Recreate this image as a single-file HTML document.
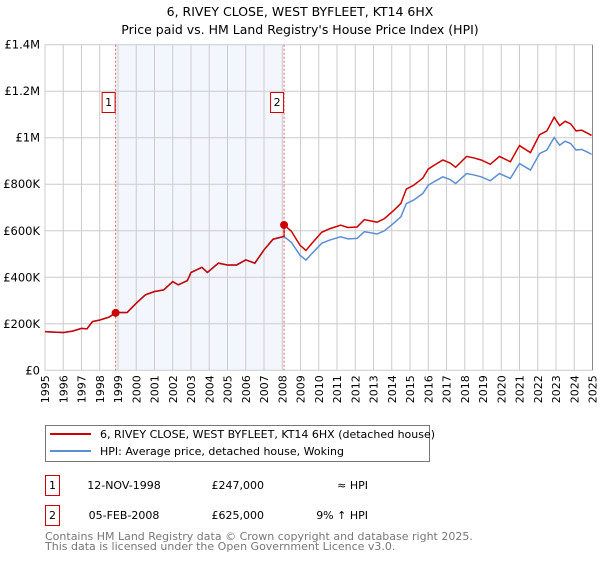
<!DOCTYPE html>
<html><head><meta charset="utf-8"><style>
body{margin:0;background:#fff;font-family:"DejaVu Sans","Liberation Sans",sans-serif;}
svg text{font-family:"DejaVu Sans","Liberation Sans",sans-serif;}
</style></head><body>
<svg id="chart" width="600" height="560" xmlns="http://www.w3.org/2000/svg">
<text x="300" y="16" text-anchor="middle" font-size="12.5">6, RIVEY CLOSE, WEST BYFLEET, KT14 6HX</text>
<text x="300" y="34" text-anchor="middle" font-size="12.5">Price paid vs. HM Land Registry's House Price Index (HPI)</text>
<g id="grid"></g>
<g id="series"></g>
<g id="axes"></g>
<g>
<rect x="45.5" y="425.5" width="384" height="36" fill="#fff" stroke="#777"/>
<line x1="50" y1="434" x2="91" y2="434" stroke="#cc0000" stroke-width="2"/>
<text x="100" y="438" font-size="11">6, RIVEY CLOSE, WEST BYFLEET, KT14 6HX (detached house)</text>
<line x1="50" y1="451" x2="91" y2="451" stroke="#5b8fd4" stroke-width="2"/>
<text x="100" y="455" font-size="11">HPI: Average price, detached house, Woking</text>
</g>
<g font-size="11">
<rect x="45.5" y="475.5" width="14" height="20" fill="#fff" stroke="#cc0000"/>
<text x="52.5" y="489" text-anchor="middle">1</text>
<text x="124" y="489" text-anchor="middle">12-NOV-1998</text>
<text x="264" y="489" text-anchor="end">£247,000</text>
<text x="368" y="489" text-anchor="end">≈ HPI</text>
<rect x="45.5" y="505.5" width="14" height="20" fill="#fff" stroke="#cc0000"/>
<text x="52.5" y="519" text-anchor="middle">2</text>
<text x="124" y="519" text-anchor="middle">05-FEB-2008</text>
<text x="264" y="519" text-anchor="end">£625,000</text>
<text x="368" y="519" text-anchor="end">9% ↑ HPI</text>
</g>
<text x="45" y="540" font-size="11" fill="#777">Contains HM Land Registry data © Crown copyright and database right 2025.</text>
<text x="45" y="550" font-size="11" fill="#777">This data is licensed under the Open Government Licence v3.0.</text>
</svg>
<script>
const hpiYears=[1995,1995.5,1996,1996.5,1997,1997.3,1997.6,1998,1998.5,1998.9,1999.5,2000,2000.5,2001,2001.5,2002,2002.3,2002.8,2003,2003.6,2003.9,2004.5,2005,2005.5,2006,2006.5,2007,2007.5,2008.1,2008.5,2008.97,2009.3,2009.6,2010.16,2010.6,2011.2,2011.6,2012.1,2012.5,2013.2,2013.6,2014.1,2014.5,2014.8,2015.2,2015.7,2016.0,2016.3,2016.8,2017.2,2017.5,2018.1,2018.5,2018.9,2019.4,2019.9,2020.5,2021.0,2021.6,2022.1,2022.5,2022.9,2023.2,2023.5,2023.8,2024.1,2024.4,2024.7,2024.95];
const hpiValues=[166,164,162,168,180,178,209,216,228,248,248,288,324,338,345,381,367,385,420,442,420,460,452,452,474,460,517,563,575,550,495,474,500,546,560,574,565,567,596,586,600,632,660,717,732,760,796,810,832,820,803,846,840,832,815,846,825,889,861,932,947,1001,968,985,975,947,950,939,929];
const saleYears=[1998.87,2008.1];
const salePrices=[247,625];
const yTicks=[0,200,400,600,800,1000,1200,1400];
const yTickLabels=["£0","£200K","£400K","£600K","£800K","£1M","£1.2M","£1.4M"];
const xTicks=[1995,1996,1997,1998,1999,2000,2001,2002,2003,2004,2005,2006,2007,2008,2009,2010,2011,2012,2013,2014,2015,2016,2017,2018,2019,2020,2021,2022,2023,2024,2025];
const L=45,R=592.5,T=44.7,B=370.3;
const X=y=>L+(y-1995)/30*(R-L);
const Y=v=>B-v/1400*(B-T);
const NS="http://www.w3.org/2000/svg";
function mk(p,tag,at){const e=document.createElementNS(NS,tag);for(const k in at)e.setAttribute(k,at[k]);p.appendChild(e);return e;}
const grid=document.getElementById('grid'),ser=document.getElementById('series'),ax=document.getElementById('axes');
const sh=mk(grid,'rect',{x:X(saleYears[0]),y:T,width:X(saleYears[1])-X(saleYears[0]),height:B-T,fill:'#eef3fc',opacity:0.7});


xTicks.forEach(t=>{const l=mk(grid,'line',{x1:X(t),x2:X(t),y1:T,y2:B,stroke:'#ccc','stroke-width':1});


const tx=mk(ax,'text',{x:0,y:0,'font-size':11,'text-anchor':'end',transform:`translate(${X(t)+4},${B+5}) rotate(-90)`});tx.textContent=t;

});
yTicks.forEach((t,i)=>{const l=mk(grid,'line',{x1:L,x2:R,y1:Y(t),y2:Y(t),stroke:'#ccc','stroke-width':1});


const tx=mk(ax,'text',{x:L-5,y:Y(t)+4,'font-size':11.5,'text-anchor':'end'});tx.textContent=yTickLabels[i];

});
function interp(yr){for(let i=1;i<hpiYears.length;i++){if(yr<=hpiYears[i]){const f=(yr-hpiYears[i-1])/(hpiYears[i]-hpiYears[i-1]);return hpiValues[i-1]+f*(hpiValues[i]-hpiValues[i-1]);}}return hpiValues[hpiValues.length-1];}
const hp=hpiYears.map((y,i)=>X(y)+','+Y(hpiValues[i])).join(' ');
const hl=mk(ser,'polyline',{points:hp,fill:'none',stroke:'#5b8fd4','stroke-width':1.5});


const r1=salePrices[0]/interp(saleYears[0]),r2=salePrices[1]/interp(saleYears[1]);
const rp=[];hpiYears.forEach((y,i)=>{if(y>=saleYears[1]&&rp.length&&hpiYears[i-1]<saleYears[1]){rp.push(X(saleYears[1])+','+Y(interp(saleYears[1])*r1));rp.push(X(saleYears[1])+','+Y(salePrices[1]));}
const r=y<saleYears[1]?r1:r2;rp.push(X(y)+','+Y(hpiValues[i]*r));});
const pl=mk(ser,'polyline',{points:rp.join(' '),fill:'none',stroke:'#cc0000','stroke-width':1.5});


saleYears.forEach((y,i)=>{const d=mk(ser,'line',{x1:X(y),x2:X(y),y1:T,y2:B,stroke:'#e06060','stroke-width':1,'stroke-dasharray':'2,2'});


const c=mk(ser,'circle',{cx:X(y),cy:Y(salePrices[i]),r:4,fill:'#cc0000'});


const b=mk(ser,'rect',{x:X(y)-13.5,y:92.5,width:13,height:20,fill:'#fff',stroke:'#cc0000'});


const t=mk(ser,'text',{x:X(y)-7,y:106,'font-size':11,'text-anchor':'middle'});t.textContent=i+1;

});
const ra=mk(ax,'line',{x1:R,x2:R,y1:T,y2:B,stroke:'#888'});


</script>
</body></html>
